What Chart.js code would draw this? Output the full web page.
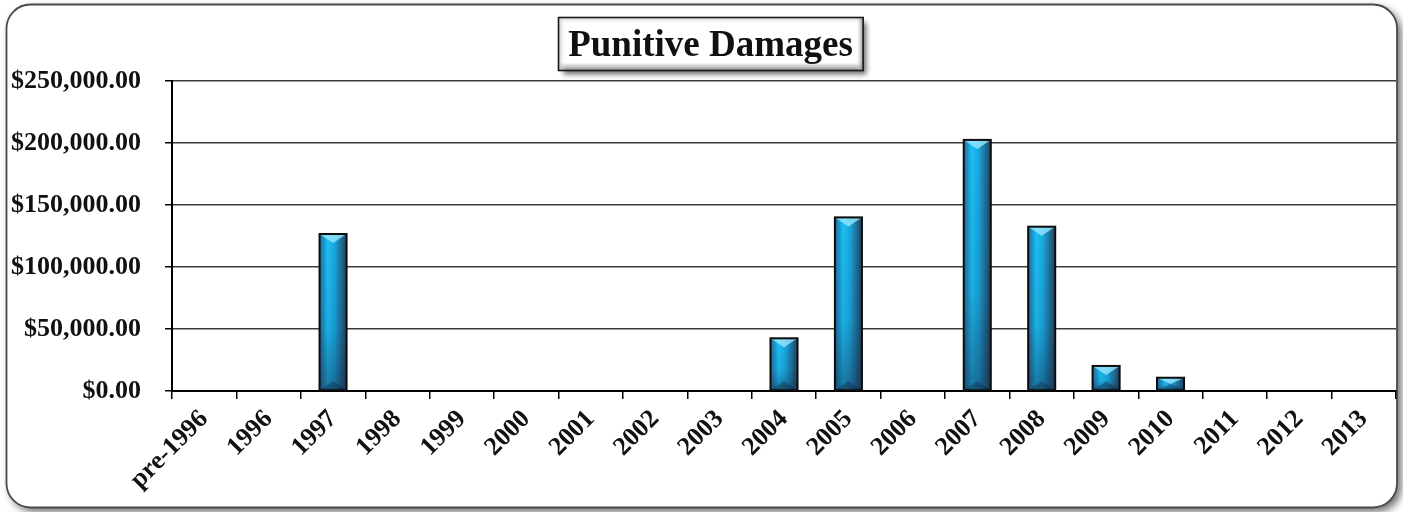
<!DOCTYPE html>
<html>
<head>
<meta charset="utf-8">
<title>Punitive Damages</title>
<script src="https://cdn.jsdelivr.net/npm/chart.js@4.4.1/dist/chart.umd.min.js"></script>
<style>
  html, body { margin: 0; padding: 0; background: #fff; }
  canvas { display: block; }
</style>
</head>
<body>
<canvas id="chart" width="1403" height="512"></canvas>
<script>
// values
const years = ['pre-1996', '1996', '1997', '1998', '1999', '2000', '2001', '2002', '2003',
  '2004', '2005', '2006', '2007', '2008', '2009', '2010', '2011', '2012', '2013'];
const damages = [0, 0, 126600, 0, 0, 0, 0, 0, 0,
  42500, 140000, 0, 202500, 132500, 20200, 10700, 0, 0, 0];
const chartTitle = 'Punitive Damages';
const yMax = 250000;
const yStep = 50000;

const serif = '"Liberation Serif", "Times New Roman", serif';

// rounded frame with drop shadow behind everything
const framePlugin = {
  id: 'frame',
  beforeDraw(chart) {
    const ctx = chart.ctx;
    ctx.save();
    ctx.shadowColor = 'rgba(0,0,0,0.6)';
    ctx.shadowBlur = 8;
    ctx.shadowOffsetX = 4;
    ctx.shadowOffsetY = 4;
    ctx.beginPath();
    ctx.roundRect(6.5, 4.5, 1390.5, 503, 24);
    ctx.fillStyle = '#fff';
    ctx.fill();
    ctx.shadowColor = 'transparent';
    ctx.lineWidth = 1.8;
    ctx.strokeStyle = '#4a4a4a';
    ctx.stroke();
    ctx.restore();
  }
};

// boxed title with bevel and shadow
const titleBoxPlugin = {
  id: 'titleBox',
  afterDraw(chart) {
    const ctx = chart.ctx;
    ctx.save();
    ctx.font = 'bold 37px ' + serif;
    const tw = ctx.measureText(chartTitle).width;
    const cx = chart.width / 2 + 9;
    const w = tw + 20, h = 53;
    const x = Math.round(cx - w / 2) + 0.5, y = 17.5;

    ctx.shadowColor = 'rgba(0,0,0,0.55)';
    ctx.shadowBlur = 5;
    ctx.shadowOffsetX = 4;
    ctx.shadowOffsetY = 4;
    ctx.fillStyle = '#fff';
    ctx.fillRect(x, y, w, h);
    ctx.shadowColor = 'transparent';

    // bevel edges
    let g = ctx.createLinearGradient(0, y, 0, y + h);
    g.addColorStop(0, '#d8d8d8');
    g.addColorStop(0.1, '#ffffff');
    g.addColorStop(0.85, '#ffffff');
    g.addColorStop(1, '#8c8c8c');
    ctx.fillStyle = g;
    ctx.fillRect(x, y, w, h);
    g = ctx.createLinearGradient(x, 0, x + w, 0);
    g.addColorStop(0, 'rgba(190,190,190,0.9)');
    g.addColorStop(0.025, 'rgba(255,255,255,0)');
    g.addColorStop(0.975, 'rgba(255,255,255,0)');
    g.addColorStop(1, 'rgba(120,120,120,0.9)');
    ctx.fillStyle = g;
    ctx.fillRect(x, y, w, h);

    ctx.lineWidth = 1.6;
    ctx.strokeStyle = '#1a1a1a';
    ctx.strokeRect(x, y, w, h);

    ctx.fillStyle = '#111';
    ctx.textAlign = 'center';
    ctx.textBaseline = 'middle';
    ctx.fillText(chartTitle, cx, y + h / 2 + 2);
    ctx.restore();
  }
};

// glossy blue shading on top of each bar
const barShadePlugin = {
  id: 'barShade',
  afterDatasetsDraw(chart) {
    const ctx = chart.ctx;
    const meta = chart.getDatasetMeta(0);
    meta.data.forEach(bar => {
      const p = bar.getProps(['x', 'y', 'base', 'width'], true);
      const hgt = p.base - p.y;
      if (hgt < 1) return;
      const l = p.x - p.width / 2, r = p.x + p.width / 2;
      ctx.save();

      let g = ctx.createLinearGradient(l, 0, r, 0);
      g.addColorStop(0, '#1d6a9c');
      g.addColorStop(0.3, '#1cc0f5');
      g.addColorStop(0.55, '#19a8e0');
      g.addColorStop(1, '#22425e');
      ctx.fillStyle = g;
      ctx.fillRect(l, p.y, p.width, hgt);

      g = ctx.createLinearGradient(0, p.y, 0, p.base);
      g.addColorStop(0, 'rgba(20,30,60,0)');
      g.addColorStop(0.6, 'rgba(20,30,60,0.1)');
      g.addColorStop(1, 'rgba(20,30,60,0.45)');
      ctx.fillStyle = g;
      ctx.fillRect(l, p.y, p.width, hgt);

      const b = Math.min(p.width / 2, hgt / 2, 9);
      ctx.fillStyle = 'rgba(160,235,255,0.75)';
      ctx.beginPath();
      ctx.moveTo(l, p.y);
      ctx.lineTo(r, p.y);
      ctx.lineTo(p.x, p.y + b);
      ctx.closePath();
      ctx.fill();

      ctx.fillStyle = 'rgba(15,25,45,0.35)';
      ctx.beginPath();
      ctx.moveTo(l, p.base);
      ctx.lineTo(r, p.base);
      ctx.lineTo(p.x, p.base - b);
      ctx.closePath();
      ctx.fill();

      ctx.lineWidth = 2;
      ctx.strokeStyle = '#0d0d0d';
      ctx.strokeRect(l, p.y, p.width, hgt);
      ctx.restore();
    });
  }
};

const money = v => '$' + v.toLocaleString('en-US', { minimumFractionDigits: 2, maximumFractionDigits: 2 });

new Chart(document.getElementById('chart'), {
  type: 'bar',
  data: {
    labels: years,
    datasets: [{
      label: chartTitle,
      data: damages,
      backgroundColor: '#19a6dc',
      borderWidth: 0,
      barPercentage: 0.42,
      categoryPercentage: 1
    }]
  },
  options: {
    responsive: false,
    animation: false,
    layout: { padding: { top: 81, right: 7, bottom: 0, left: 0 } },
    plugins: {
      legend: { display: false },
      title: { display: false },
      tooltip: { enabled: false }
    },
    scales: {
      x: {
        grid: {
          offset: true,
          drawOnChartArea: false,
          drawTicks: true,
          tickLength: 8,
          color: '#000',
          lineWidth: 1.5
        },
        border: { display: true, color: '#000', width: 2 },
        ticks: {
          autoSkip: false,
          minRotation: 45,
          maxRotation: 45,
          padding: 5,
          color: '#111',
          font: { family: serif, size: 26, weight: 'bold' }
        },
        afterFit(scale) { scale.height = 121; }
      },
      y: {
        min: 0,
        max: yMax,
        ticks: {
          stepSize: yStep,
          padding: 24,
          color: '#111',
          font: { family: serif, size: 26, weight: 'bold' },
          callback: v => money(v)
        },
        grid: {
          color: '#3c3c3c',
          lineWidth: 1.5,
          tickLength: 7,
          tickColor: '#000'
        },
        border: { display: true, color: '#000', width: 2 },
        afterFit(scale) { scale.width = 172; }
      }
    }
  },
  plugins: [framePlugin, titleBoxPlugin, barShadePlugin]
});
</script>
</body>
</html>
